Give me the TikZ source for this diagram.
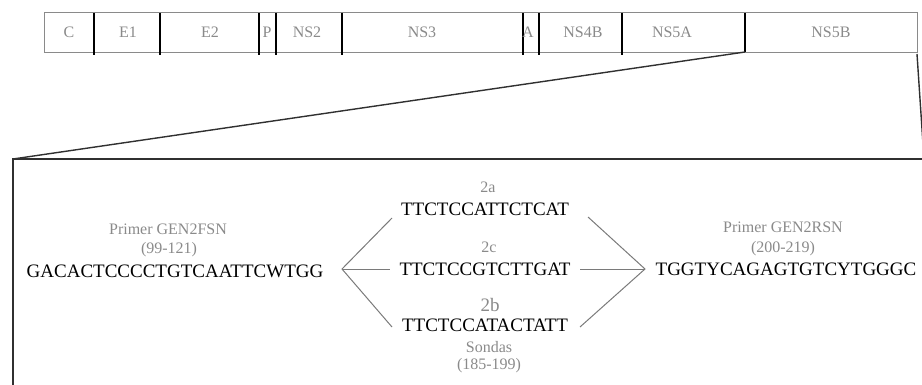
\documentclass[tikz,border=0pt]{standalone}
\usepackage{fontspec}
\setmainfont{Liberation Serif}
\definecolor{labgray}{HTML}{8A8A8A}
\definecolor{linegray}{HTML}{7A7A7A}
\definecolor{darkline}{HTML}{303030}
\tikzset{
  barlabel/.style={text=labgray, font=\fontsize{16}{16}\selectfont, inner sep=0pt, anchor=base},
  seq/.style={text=black, font=\fontsize{19}{19}\selectfont, inner sep=0pt, anchor=base},
  note/.style={text=labgray, font=\fontsize{16}{16}\selectfont, inner sep=0pt, anchor=base},
  bignote/.style={text=labgray, font=\fontsize{19}{19}\selectfont, inner sep=0pt, anchor=base},
  divider/.style={draw=black, line width=1.1pt},
  branch/.style={draw=linegray, line width=1pt},
  zoomline/.style={draw=darkline, line width=1.4pt},
}
\begin{document}
\begin{tikzpicture}[x=1pt,y=-1pt]
\useasboundingbox (0,0) rectangle (922,385);
\clip (0,0) rectangle (922,385);
% genome bar
\node (bar) [draw=labgray, line width=0.8pt, minimum width=873pt, minimum height=40pt, inner sep=0pt, anchor=north west] at (44,12) {};
\foreach \x/\n in {94/d1,160/d2,259/d3,276/d4,342/d5,523/d6,539/d7,622/d8} {
  \coordinate (\n t) at (\x,13);
  \coordinate (\n b) at (\x,55);
  \draw[divider] (\n t) -- (\n b);
}
\coordinate (d9t) at (745,13);
\coordinate (d9b) at (745,52);
\draw[divider] (d9t) -- (d9b);
\node[barlabel] (lC) at (69,38) {C};
\node[barlabel] (lE1) at (128,38) {E1};
\node[barlabel] (lE2) at (210,38) {E2};
\node[barlabel] (lP) at (267,38) {P};
\node[barlabel] (lNS2) at (307,38) {NS2};
\node[barlabel] (lNS3) at (422,38) {NS3};
\node[barlabel] (lA) at (528,38) {A};
\node[barlabel] (lNS4B) at (583,38) {NS4B};
\node[barlabel] (lNS5A) at (672,38) {NS5A};
\node[barlabel] (lNS5B) at (831,38) {NS5B};
% zoom box
\coordinate (boxtl) at (13,159);
\coordinate (boxtr) at (940,159);
\coordinate (boxbl) at (13,400);
\coordinate (rtop) at (917,54);
\coordinate (rbot) at (924,159);
\draw[zoomline] (d9b) -- (boxtl);
\draw[zoomline] (rtop) -- (rbot);
\draw[draw=darkline, line width=2pt] (boxbl) -- (boxtl) -- (boxtr);
% left primer
\node[note] (fsnname) at (168,235) {Primer GEN2FSN};
\node[note] (fsnpos) at (169,254) {(99-121)};
\node[seq] (fsn) at (175,277) {GACACTCCCCTGTCAATTCWTGG};
% right primer
\node[note] (rsnname) at (783,233) {Primer GEN2RSN};
\node[note] (rsnpos) at (783,252) {(200-219)};
\node[seq] (rsn) at (786,276) {TGGTYCAGAGTGTCYTGGGC};
% probes
\node[note] (l2a) at (488,193) {2a};
\node[seq] (p2a) at (485,215) {TTCTCCATTCTCAT};
\node[note] (l2c) at (489,252) {2c};
\node[seq] (p2c) at (485,275) {TTCTCCGTCTTGAT};
\node[bignote] (l2b) at (490,311) {2b};
\node[seq] (p2b) at (485,331) {TTCTCCATACTATT};
\node[note] (sondas) at (489,352) {Sondas};
\node[note] (sondpos) at (489,369) {(185-199)};
% branch connectors
\coordinate (lv) at (342,269);
\coordinate (rv) at (645,269);
\coordinate (lu) at (392,218);
\coordinate (lm) at (390,269);
\coordinate (ll) at (392,327);
\coordinate (ru) at (588,217);
\coordinate (rm) at (580,269);
\coordinate (rl) at (580,327);
\draw[branch] (lu) -- (lv) -- (ll);
\draw[branch] (lv) -- (lm);
\draw[branch] (ru) -- (rv) -- (rl);
\draw[branch] (rm) -- (rv);
\end{tikzpicture}
\end{document}
